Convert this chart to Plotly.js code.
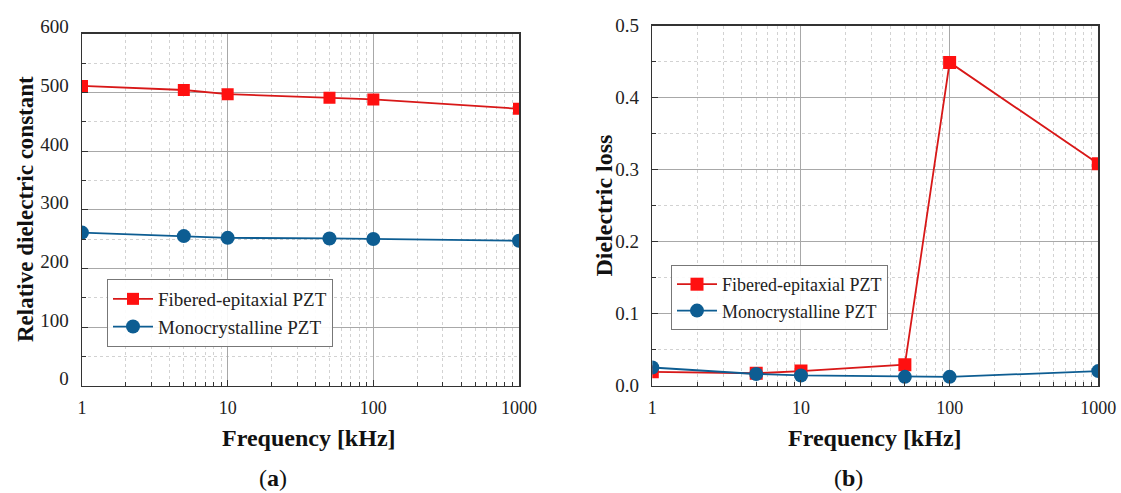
<!DOCTYPE html>
<html>
<head>
<meta charset="utf-8">
<script src="https://cdn.plot.ly/plotly-3.0.1.min.js"></script>
<style>html,body{margin:0;padding:0;background:#fff;}#chart{width:1121px;height:493px;}</style>
</head>
<body>
<div id="chart"></div>
<script>
// ---- data ----
const freq = [1, 5, 10, 50, 100, 1000];
const fiberedEps = [511, 504, 497, 491, 488, 472];
const monoEps = [261, 255, 252, 251, 250, 247];
const fiberedLoss = [0.019, 0.017, 0.020, 0.029, 0.449, 0.308];
const monoLoss = [0.025, 0.016, 0.014, 0.012, 0.012, 0.020];
const seriesNames = ['Fibered-epitaxial PZT', 'Monocrystalline PZT'];
const xTickVals = [1, 10, 100, 1000];
const xTickText = ['1', '10', '100', '1000'];

const W = 1121, H = 493;
const redC = '#ff1010', redLine = '#d81818', blueC = '#0d5d92';
const serif = 'Liberation Serif, Times New Roman, serif';

// minor log ticks
const minorX = [];
for (let d = 1; d <= 100; d *= 10) for (let k = 2; k <= 9; k++) minorX.push(k * d);

function px2x(p) { return p / W; }
function px2y(p) { return 1 - p / H; }

function xAxis(domain, anchor) {
  return {
    type: 'log', range: [0, 3], domain: domain, anchor: anchor,
    tickmode: 'array', tickvals: xTickVals, ticktext: xTickText,
    ticks: 'inside', ticklen: 6, tickcolor: '#333', tickwidth: 1,
    showline: true, linecolor: '#333', linewidth: 1.5, mirror: true,
    showgrid: true, gridcolor: '#a8a8a8', gridwidth: 1,
    minor: {tickmode: 'array', tickvals: minorX, ticks: 'inside', ticklen: 4, tickcolor: '#333',
            showgrid: true, gridcolor: '#d2d2d2', griddash: 'dot', gridwidth: 1},
    tickfont: {family: serif, size: 18, color: '#222'},
    ticklabelstandoff: 5,
    zeroline: false, fixedrange: true
  };
}
function yAxis(domain, anchor, range, dtick, mdtick, fmt, shift) {
  return {
    range: range, domain: domain, anchor: anchor, dtick: dtick, tick0: 0,
    tickformat: fmt,
    ticks: 'inside', ticklen: 6, tickcolor: '#333', tickwidth: 1,
    showline: true, linecolor: '#333', linewidth: 1.5, mirror: true,
    showgrid: true, gridcolor: '#a8a8a8', gridwidth: 1,
    minor: {dtick: mdtick, tick0: 0, ticks: 'inside', ticklen: 4, tickcolor: '#333',
            showgrid: true, gridcolor: '#d2d2d2', griddash: 'dot', gridwidth: 1},
    tickfont: {family: serif, size: 19, color: '#222'},
    ticklabelstandoff: 8, ticklabelshift: shift,
    zeroline: false, fixedrange: true
  };
}

const traces = [
  {x: freq, y: fiberedEps, xaxis: 'x', yaxis: 'y', name: seriesNames[0], mode: 'lines+markers',
   line: {color: redLine, width: 1.8}, marker: {symbol: 'square', size: 12, color: redC}, legend: 'legend'},
  {x: freq, y: monoEps, xaxis: 'x', yaxis: 'y', name: seriesNames[1], mode: 'lines+markers',
   line: {color: blueC, width: 1.8}, marker: {symbol: 'circle', size: 14, color: blueC}, legend: 'legend'},
  {x: freq, y: fiberedLoss, xaxis: 'x2', yaxis: 'y2', name: seriesNames[0], mode: 'lines+markers',
   line: {color: redLine, width: 1.8}, marker: {symbol: 'square', size: 13, color: redC}, legend: 'legend2'},
  {x: freq, y: monoLoss, xaxis: 'x2', yaxis: 'y2', name: seriesNames[1], mode: 'lines+markers',
   line: {color: blueC, width: 1.8}, marker: {symbol: 'circle', size: 14, color: blueC}, legend: 'legend2'}
];

const xTitleFont = {family: serif, size: 24, color: '#111'};
const yTitleFont = {family: serif, size: 23, color: '#111'};

const layout = {
  width: W, height: H,
  margin: {l: 0, r: 0, t: 0, b: 0},
  paper_bgcolor: '#fff', plot_bgcolor: '#fff',
  showlegend: true,
  xaxis: xAxis([px2x(82), px2x(519)], 'y'),
  yaxis: yAxis([px2y(385.7), px2y(33.7)], 'x', [0, 600], 100, 50, 'd', -7),
  xaxis2: xAxis([px2x(652.3), px2x(1098.3)], 'y2'),
  yaxis2: yAxis([px2y(385.5), px2y(25.7)], 'x2', [0, 0.5], 0.1, 0.05, '.1f', 0),
  legend: {x: px2x(107), y: px2y(279), xanchor: 'left', yanchor: 'top',
           bgcolor: 'rgba(255,255,255,0.9)', bordercolor: '#777', borderwidth: 1,
           font: {family: serif, size: 19, color: '#222'}, tracegroupgap: 0, itemwidth: 40},
  legend2: {x: px2x(671), y: px2y(265), xanchor: 'left', yanchor: 'top',
           bgcolor: 'rgba(255,255,255,0.9)', bordercolor: '#777', borderwidth: 1,
           font: {family: serif, size: 18, color: '#222'}, tracegroupgap: 0, itemwidth: 40},
  annotations: [
    {text: '<b>Relative dielectric constant</b>', xref: 'paper', yref: 'paper', x: px2x(25), y: px2y(209),
     textangle: -90, showarrow: false, font: yTitleFont, xanchor: 'center', yanchor: 'middle'},
    {text: '<b>Frequency [kHz]</b>', xref: 'paper', yref: 'paper', x: px2x(309), y: px2y(438),
     showarrow: false, font: xTitleFont, xanchor: 'center', yanchor: 'middle'},
    {text: '(<b>a</b>)', xref: 'paper', yref: 'paper', x: px2x(273), y: px2y(478),
     showarrow: false, font: xTitleFont, xanchor: 'center', yanchor: 'middle'},
    {text: '<b>Dielectric loss</b>', xref: 'paper', yref: 'paper', x: px2x(603), y: px2y(205.5),
     textangle: -90, showarrow: false, font: xTitleFont, xanchor: 'center', yanchor: 'middle'},
    {text: '<b>Frequency [kHz]</b>', xref: 'paper', yref: 'paper', x: px2x(875), y: px2y(438),
     showarrow: false, font: xTitleFont, xanchor: 'center', yanchor: 'middle'},
    {text: '(<b>b</b>)', xref: 'paper', yref: 'paper', x: px2x(848), y: px2y(478),
     showarrow: false, font: xTitleFont, xanchor: 'center', yanchor: 'middle'}
  ]
};

Plotly.newPlot('chart', traces, layout, {staticPlot: true, displayModeBar: false});
</script>
</body>
</html>
